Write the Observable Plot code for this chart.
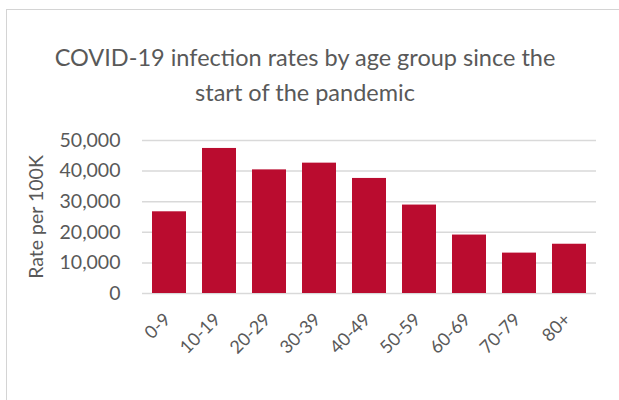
<!DOCTYPE html>
<html>
<head>
<meta charset="utf-8">
<script src="https://cdn.jsdelivr.net/npm/d3@7"></script>
<script src="https://cdn.jsdelivr.net/npm/@observablehq/plot@0.6"></script>
<style>
  html, body { margin: 0; padding: 0; background: #fff; }
  #wrap { position: relative; width: 619px; height: 400px; overflow: hidden; }
  #frame { position: absolute; left: 6px; top: 9px; width: 700px; height: 500px;
           border-top: 1.5px solid #d4d4d4; border-left: 1.5px solid #d4d4d4; }
  #title { position: absolute; left: 0; top: 40px; width: 610px; text-align: center;
           font-family: Lato, "Open Sans", sans-serif; font-size: 23.5px; line-height: 35px; color: #595959; }
  #chart { position: absolute; left: 0; top: 110px; }
</style>
</head>
<body>
<div id="wrap">
  <div id="frame"></div>
  <div id="title">COVID-19 infection rates by age group since the<br>start of the pandemic</div>
  <div id="chart"></div>
</div>
<script>
const ageGroups = ["0-9", "10-19", "20-29", "30-39", "40-49", "50-59", "60-69", "70-79", "80+"];
const rates = [26700, 47400, 40400, 42600, 37600, 28900, 19100, 13200, 16100];
const yTicks = [0, 10000, 20000, 30000, 40000, 50000];

const data = ageGroups.map((g, i) => ({group: g, rate: rates[i]}));

const chart = Plot.plot({
  width: 619,
  height: 290,
  marginTop: 30,
  marginBottom: 107,
  marginLeft: 142,
  marginRight: 23,
  style: {fontFamily: "Lato, 'Open Sans', sans-serif", color: "#595959", background: "transparent"},
  x: {domain: ageGroups, paddingInner: 0.33, paddingOuter: 0.17},
  y: {domain: [0, 50000]},
  marks: [
    Plot.ruleY(yTicks, {stroke: "#d9d9d9", strokeWidth: 1.5}),
    Plot.barY(data, {x: "group", y: "rate", fill: "#ba0c2f"}),
    Plot.axisY(yTicks, {tickSize: 0, tickPadding: 22, tickFormat: d3.format(","), fontSize: 19.5,
      label: "Rate per 100K", labelAnchor: "center", labelArrow: "none", labelOffset: 113}),
    Plot.axisX({tickSize: 0, tickRotate: -45, tickPadding: 23, dx: -2, fontSize: 18, label: null})
  ]
});
document.getElementById("chart").appendChild(chart);
</script>
</body>
</html>
